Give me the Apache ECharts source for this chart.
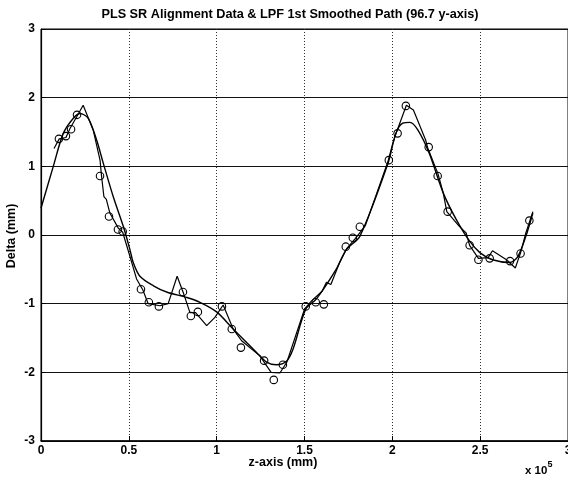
<!DOCTYPE html>
<html>
<head>
<meta charset="utf-8">
<script src="https://cdn.jsdelivr.net/npm/echarts@6/dist/echarts.min.js"></script>
<style>html,body{margin:0;padding:0;background:#fff;}#c{width:568px;height:484px;}</style>
</head>
<body>
<div id="c"></div>
<script>
var titleText = 'PLS SR Alignment Data & LPF 1st Smoothed Path (96.7 y-axis)';
var xName = 'z-axis (mm)';
var yName = 'Delta (mm)';
var xTicks = [0, 0.5, 1, 1.5, 2, 2.5, 3];
var yTicks = [-3, -2, -1, 0, 1, 2, 3];

// measured data (circles), z in units of 1e5 mm
var dataX = [0.102, 0.142, 0.171, 0.205, 0.336, 0.387, 0.438, 0.465, 0.569, 0.614, 0.671, 0.808, 0.853, 0.893, 1.03, 1.086, 1.138, 1.27, 1.325, 1.377, 1.507, 1.564, 1.61, 1.735, 1.775, 1.815, 1.98, 2.03, 2.077, 2.207, 2.258, 2.315, 2.44, 2.49, 2.554, 2.67, 2.73, 2.78];
var dataY = [1.40, 1.44, 1.54, 1.75, 0.86, 0.27, 0.08, 0.05, -0.79, -0.98, -1.04, -0.83, -1.18, -1.12, -1.04, -1.37, -1.64, -1.83, -2.11, -1.89, -1.04, -0.98, -1.01, -0.17, -0.04, 0.12, 1.09, 1.48, 1.88, 1.28, 0.86, 0.34, -0.15, -0.36, -0.34, -0.38, -0.27, 0.21];

// jagged path
var pathX = [0.074, 0.104, 0.142, 0.165, 0.205, 0.24, 0.297, 0.336, 0.345, 0.358, 0.372, 0.392, 0.44, 0.465, 0.506, 0.544, 0.58, 0.61, 0.677, 0.724, 0.775, 0.81, 0.848, 0.88, 0.943, 0.99, 1.037, 1.094, 1.142, 1.246, 1.31, 1.36, 1.40, 1.50, 1.54, 1.60, 1.625, 1.65, 1.70, 1.74, 1.79, 1.82, 1.847, 1.976, 2.0, 2.02, 2.08, 2.12, 2.19, 2.20, 2.26, 2.29, 2.31, 2.38, 2.42, 2.44, 2.49, 2.545, 2.57, 2.65, 2.70, 2.73, 2.76, 2.80];
var pathY = [1.26, 1.40, 1.42, 1.55, 1.73, 1.89, 1.53, 1.09, 0.85, 0.56, 0.52, 0.32, 0.10, 0.04, -0.31, -0.64, -0.80, -1.00, -1.03, -1.00, -0.60, -0.84, -1.13, -1.13, -1.32, -1.20, -1.02, -1.37, -1.54, -1.76, -2.00, -2.01, -1.85, -1.08, -0.96, -0.82, -0.69, -0.72, -0.40, -0.20, -0.05, 0.05, 0.14, 1.08, 1.31, 1.47, 1.89, 1.82, 1.38, 1.28, 0.89, 0.61, 0.34, 0.13, 0.03, -0.15, -0.34, -0.33, -0.23, -0.36, -0.48, -0.26, 0.03, 0.34];

// LPF smoothed path
var smoothX = [0, 0.07, 0.127, 0.184, 0.222, 0.269, 0.317, 0.354, 0.411, 0.468, 0.506, 0.525, 0.563, 0.64, 0.715, 0.83, 0.905, 1.0, 1.094, 1.227, 1.284, 1.34, 1.397, 1.435, 1.507, 1.568, 1.68, 1.739, 1.815, 1.976, 2.02, 2.06, 2.10, 2.145, 2.21, 2.29, 2.365, 2.44, 2.50, 2.57, 2.67, 2.715, 2.76, 2.80];
var smoothY = [0.39, 1.0, 1.48, 1.70, 1.77, 1.70, 1.38, 1.05, 0.56, 0.13, -0.21, -0.40, -0.60, -0.74, -0.83, -0.91, -0.98, -1.12, -1.37, -1.71, -1.85, -1.89, -1.84, -1.66, -1.08, -0.93, -0.50, -0.21, -0.02, 1.05, 1.48, 1.63, 1.64, 1.53, 1.19, 0.61, 0.22, -0.09, -0.26, -0.36, -0.40, -0.31, -0.02, 0.32];

function zip(a, b) { return a.map(function (v, i) { return [v, b[i]]; }); }

var chart = echarts.init(document.getElementById('c'), null, {renderer: 'canvas'});
var font = 'Liberation Sans, Arial, sans-serif';
chart.setOption({
  backgroundColor: '#ffffff',
  animation: false,
  title: {
    text: titleText, left: 285, top: 3, textAlign: 'center',
    textStyle: {fontFamily: font, fontSize: 12.7, fontWeight: 'bold', color: '#000'}
  },
  grid: {left: 41, top: 29, width: 527, height: 412, show: true, borderColor: '#000', borderWidth: 1,
    backgroundColor: 'transparent', containLabel: false, outerBoundsMode: 'none'},
  xAxis: {
    type: 'value', min: 0, max: 3, interval: 0.5,
    axisLine: {show: true, onZero: false, lineStyle: {color: '#000', width: 1.5}},
    axisTick: {show: true, inside: true, length: 5, lineStyle: {color: '#000'}},
    axisLabel: {fontFamily: font, fontSize: 12, fontWeight: 'bold', color: '#000', margin: 4,
      formatter: function (v) { return xTicks.indexOf(v) >= 0 ? String(v) : ''; }},
    splitLine: {show: true, lineStyle: {color: '#333', width: 1, type: [1, 2]}}
  },
  yAxis: {
    type: 'value', min: -3, max: 3, interval: 1,
    axisLine: {show: true, onZero: false, lineStyle: {color: '#000', width: 1.2}},
    axisTick: {show: true, inside: true, length: 5, lineStyle: {color: '#000'}},
    axisLabel: {fontFamily: font, fontSize: 12, fontWeight: 'bold', color: '#000', margin: 6,
      formatter: function (v) { return yTicks.indexOf(v) >= 0 ? String(v) : ''; }},
    splitLine: {show: true, lineStyle: {color: '#111', width: 1}}
  },
  graphic: [{
    type: 'text', x: 283, y: 463,
    style: {text: xName, fontFamily: font, fontSize: 12.5, fontWeight: 'bold', fill: '#000',
      textAlign: 'center', textVerticalAlign: 'middle'}
  }, {
    type: 'text', x: 12, y: 236, rotation: Math.PI / 2,
    style: {text: yName, fontFamily: font, fontSize: 12.5, fontWeight: 'bold', fill: '#000',
      textAlign: 'center', textVerticalAlign: 'middle'}
  }, {
    type: 'text', left: 525, top: 460,
    style: {
      text: '{a|x 10}{b|5}',
      rich: {
        a: {fontFamily: font, fontSize: 11.5, fontWeight: 'bold', fill: '#000', padding: [5, 0, 0, 0]},
        b: {fontFamily: font, fontSize: 9, fontWeight: 'bold', fill: '#000', verticalAlign: 'top'}
      }
    }
  }],
  series: [
    {type: 'line', data: zip(smoothX, smoothY), showSymbol: false, smooth: 0.3,
      lineStyle: {color: '#000', width: 1.4}, z: 3},
    {type: 'line', data: zip(pathX, pathY), showSymbol: false,
      lineStyle: {color: '#000', width: 1.2}, z: 4},
    {type: 'scatter', data: zip(dataX, dataY), symbol: 'circle', symbolSize: 7.5,
      itemStyle: {color: 'rgba(255,255,255,0)', borderColor: '#000', borderWidth: 1.1, opacity: 1}, z: 5}
  ]
});
</script>
</body>
</html>
